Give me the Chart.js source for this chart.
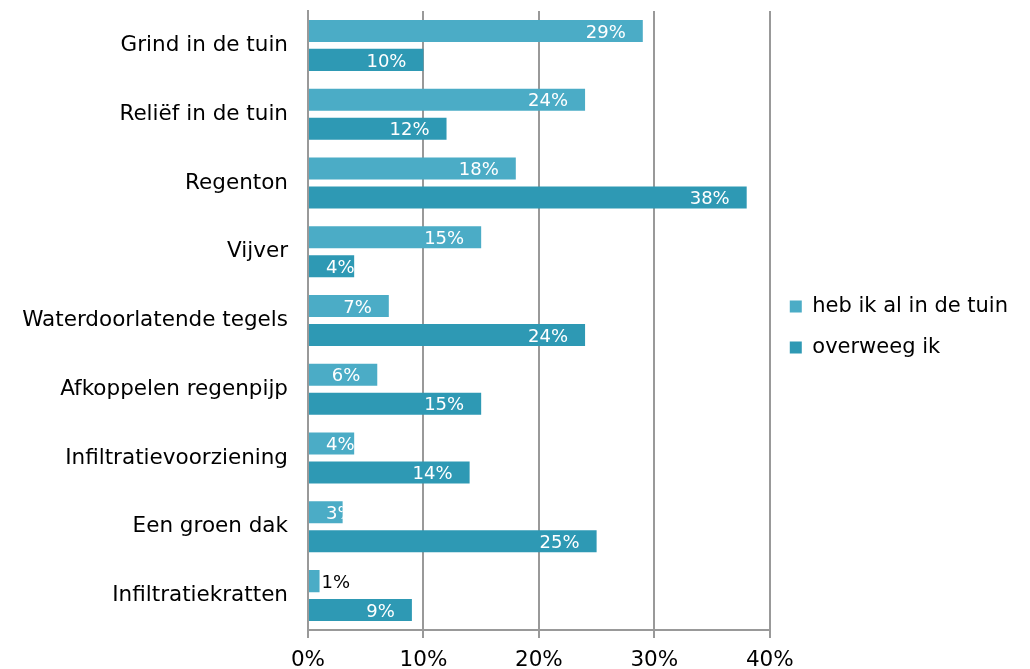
<!DOCTYPE html>
<html>
<head>
<meta charset="utf-8">
<script src="https://cdn.jsdelivr.net/npm/chart.js@4"></script>
<style>
    html, body { margin: 0; padding: 0; background: #fff; }
    #wrap { width: 1030px; height: 669px; }
</style>
</head>
<body>
<div id="wrap"><canvas id="maatregelenChart"></canvas></div>
<script>
const categories = [
    'Grind in de tuin', 'Reliëf in de tuin', 'Regenton', 'Vijver',
    'Waterdoorlatende tegels', 'Afkoppelen regenpijp', 'Infiltratievoorziening',
    'Een groen dak', 'Infiltratiekratten'
];
const hebIkAl = [29, 24, 18, 15, 7, 6, 4, 3, 1];
const overweegIk = [10, 12, 38, 4, 24, 15, 14, 25, 9];
const xTicks = [0, 10, 20, 30, 40];

const FONT = 'DejaVu Sans';
const GRID = '#999999';

document.addEventListener('DOMContentLoaded', function() {
    // Labels at the inside end of each bar, clipped to the bar
    const barLabels = {
        id: 'barLabels',
        afterDatasetsDraw(chart) {
            const ctx = chart.ctx;
            ctx.save();
            ctx.font = '18px "' + FONT + '"';
            ctx.textBaseline = 'middle';
            ctx.textAlign = 'left';
            chart.data.datasets.forEach((ds, i) => {
                chart.getDatasetMeta(i).data.forEach((bar, j) => {
                    const value = ds.data[j];
                    const text = value + '%';
                    const tw = ctx.measureText(text).width;
                    const top = bar.y - bar.height / 2;
                    if (value < 2) {
                        // too small: put it outside, in black
                        ctx.fillStyle = '#000';
                        ctx.fillText(text, bar.x + 2, bar.y + 2);
                        return;
                    }
                    const pad = 17;
                    let left = bar.x - pad - tw;
                    if (left < bar.base + pad) left = bar.base + pad;
                    ctx.save();
                    ctx.beginPath();
                    ctx.rect(bar.base, top, bar.x - bar.base, bar.height);
                    ctx.clip();
                    ctx.fillStyle = '#fff';
                    ctx.fillText(text, left, bar.y + 2);
                    ctx.restore();
                });
            });
            ctx.restore();
        }
    };

    const ctx = document.getElementById('maatregelenChart').getContext('2d');
    new Chart(ctx, {
        type: 'bar',
        data: {
            labels: categories,
            datasets: [{
                label: 'heb ik al in de tuin',
                data: hebIkAl,
                backgroundColor: '#4bacc6'
            }, {
                label: 'overweeg ik',
                data: overweegIk,
                backgroundColor: '#2e99b4'
            }]
        },
        options: {
            indexAxis: 'y',
            responsive: true,
            maintainAspectRatio: false,
            animation: false,
            datasets: {
                bar: { categoryPercentage: 0.843, barPercentage: 0.76 }
            },
            layout: {
                padding: { top: 11, left: 0, right: 12, bottom: 0 }
            },
            scales: {
                x: {
                    min: 0,
                    max: 40,
                    afterBuildTicks: function(scale) {
                        scale.ticks = xTicks.map(v => ({ value: v }));
                    },
                    grid: {
                        color: GRID,
                        lineWidth: 2,
                        tickLength: 8
                    },
                    border: { color: GRID, width: 2 },
                    ticks: {
                        color: '#000',
                        font: { family: FONT, size: 21.5 },
                        padding: 10,
                        callback: v => v + '%'
                    },
                    afterFit: function(scale) {
                        scale.height = 39;
                    }
                },
                y: {
                    grid: { display: false, drawTicks: false },
                    border: { color: GRID, width: 2 },
                    ticks: {
                        color: '#000',
                        font: { family: FONT, size: 21.5 },
                        padding: 20
                    },
                    afterFit: function(scale) {
                        scale.width = 308;
                        scale.paddingTop = 0;
                        scale.paddingBottom = 0;
                    }
                }
            },
            plugins: {
                legend: {
                    position: 'right',
                    align: 'start',
                    // empty title only used as a spacer above the items
                    title: {
                        display: true,
                        text: '',
                        font: { size: 10 },
                        padding: { top: 0, bottom: 253 }
                    },
                    labels: {
                        color: '#000',
                        font: { family: FONT, size: 21 },
                        boxWidth: 12,
                        boxHeight: 12,
                        padding: 20
                    }
                },
                tooltip: { enabled: false }
            }
        },
        plugins: [barLabels]
    });
});
</script>
</body>
</html>
